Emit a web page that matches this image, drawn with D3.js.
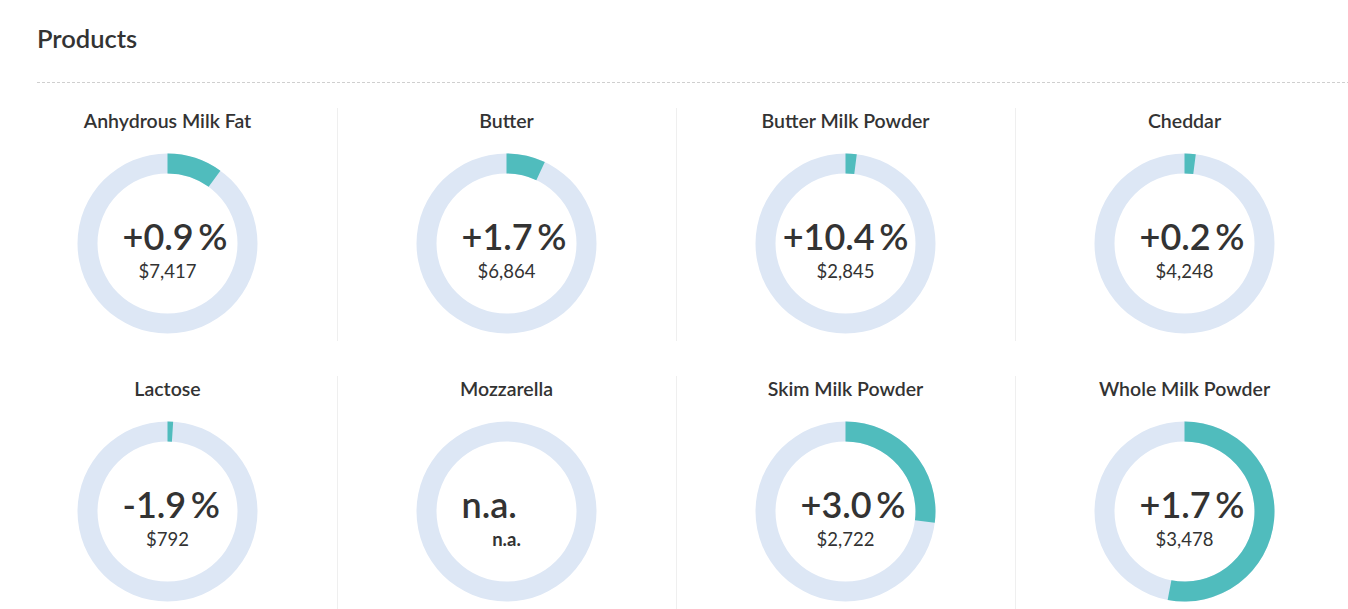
<!DOCTYPE html>
<html>
<head>
<meta charset="utf-8">
<script src="https://cdn.jsdelivr.net/npm/d3@7"></script>
<style>
  html, body { margin: 0; padding: 0; background: #fff; }
  svg { display: block; font-family: Lato, "Noto Sans", sans-serif; }
</style>
</head>
<body>
<svg id="chart" width="1348" height="609"></svg>
<script>
// products and values
const products = ["Anhydrous Milk Fat", "Butter", "Butter Milk Powder", "Cheddar",
                  "Lactose", "Mozzarella", "Skim Milk Powder", "Whole Milk Powder"];
const changes = [0.9, 1.7, 10.4, 0.2, -1.9, null, 3.0, 1.7];
const prices = [7417, 6864, 2845, 4248, 792, null, 2722, 3478];
const shares = [0.10, 0.07, 0.02, 0.02, 0.01, 0, 0.27, 0.53];

const W = 1348, H = 609;
const svg = d3.select("#chart");

svg.append("text")
  .attr("x", 37).attr("y", 48)
  .attr("font-size", 25.5).attr("font-weight", 600)
  .attr("fill", "#333")
  .text("Products");

svg.append("line")
  .attr("x1", 37).attr("x2", W).attr("y1", 82.5).attr("y2", 82.5)
  .attr("stroke", "#cfcfcf").attr("stroke-dasharray", "3,2");

const col = d3.scaleBand().domain(d3.range(4)).range([-2, 1354]);
const row = d3.scaleBand().domain(d3.range(2)).range([108, 644]);
const angle = d3.scaleLinear().domain([0, 1]).range([0, 2 * Math.PI]);
const outerR = 90, innerR = 70;
const arc = d3.arc().innerRadius(innerR).outerRadius(outerR);

// plain hyphen for negatives, as on the page
const locale = d3.formatLocale({ decimal: ".", thousands: ",", grouping: [3], currency: ["$", ""], minus: "-" });
const fmtChange = locale.format("+.1f");
const fmtPrice = locale.format("$,");

const cells = svg.selectAll(".cell")
  .data(products.map((name, i) => ({ name, change: changes[i], price: prices[i], share: shares[i], i })))
  .enter().append("g")
  .attr("class", "cell")
  .attr("transform", d => `translate(${col(d.i % 4)},${row(Math.floor(d.i / 4))})`);

// separators between columns
cells.filter(d => d.i % 4 > 0).append("line")
  .attr("x1", 0.5).attr("x2", 0.5).attr("y1", 0).attr("y2", 233)
  .attr("stroke", "#efefef");

const cx = col.bandwidth() / 2, cy = 135.5;

cells.append("text")
  .attr("x", cx).attr("y", 20)
  .attr("text-anchor", "middle")
  .attr("font-size", 19.5).attr("font-weight", 600)
  .attr("fill", "#333")
  .text(d => d.name);

const donut = cells.append("g").attr("transform", `translate(${cx},${cy})`);

donut.append("path")
  .attr("fill", "#dde7f5")
  .attr("d", arc({ startAngle: 0, endAngle: 2 * Math.PI }));

donut.filter(d => d.share > 0).append("path")
  .attr("fill", "#50bcbd")
  .attr("d", d => arc({ startAngle: 0, endAngle: angle(d.share) }));

// big change label: left aligned at a fixed inset, centred if it would overflow
const big = donut.append("text")
  .attr("y", 6)
  .attr("font-size", 36).attr("font-weight", 600)
  .attr("fill", "#333");
big.append("tspan").text(d => d.change == null ? "n.a." : fmtChange(d.change));
big.append("tspan")
  .attr("visibility", d => d.change == null ? "hidden" : null)
  .text("\u2009%");
big.each(function() {
  const t = d3.select(this), w = this.getComputedTextLength();
  let x = -45;
  if (x + w > 65) x = -w / 2;
  t.attr("x", x);
});

donut.append("text")
  .attr("y", 34)
  .attr("text-anchor", "middle")
  .attr("font-size", 18.5)
  .attr("font-weight", d => d.price == null ? 700 : 400)
  .attr("fill", "#333")
  .text(d => d.price == null ? "n.a." : fmtPrice(d.price));
</script>
</body>
</html>
